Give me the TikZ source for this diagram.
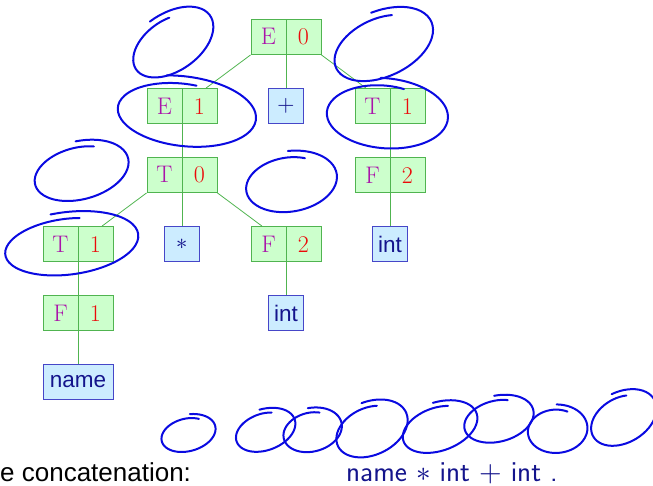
\documentclass[tikz,border=0pt]{standalone}
\usepackage{fontspec}
\usepackage{unicode-math}
\newfontfamily\helv{Liberation Sans}
\usetikzlibrary{positioning}
\definecolor{ntfill}{RGB}{204,255,204}
\definecolor{ntline}{RGB}{80,180,80}
\definecolor{ntsym}{RGB}{170,20,170}
\definecolor{ntidx}{RGB}{235,10,10}
\definecolor{tfill}{RGB}{204,236,255}
\definecolor{tline}{RGB}{70,70,200}
\definecolor{tdark}{RGB}{20,20,140}
\definecolor{handblue}{RGB}{10,10,225}
\tikzstyle{nterm} = [rectangle, draw=ntline, fill=ntfill, line width=0.9pt, minimum width=70pt, minimum height=35pt, inner sep=0pt, font=\fontsize{24}{28}\selectfont, path picture={\draw[ntline, line width=0.9pt] (path picture bounding box.north) -- (path picture bounding box.south);}]
\tikzstyle{term} = [rectangle, draw=tline, fill=tfill, line width=0.9pt, minimum width=35pt, minimum height=35pt, inner sep=0pt, text=tdark, font=\helv\fontsize{22.5}{26}\selectfont]
\tikzstyle{edge} = [ntline, line width=0.8pt]
\tikzstyle{hand} = [handblue, line width=2pt, line cap=round, line join=round]
\newcommand{\nt}[2]{\makebox[35pt]{\textcolor{ntsym}{#1}}\makebox[35pt]{\textcolor{ntidx}{#2}}}
\newcommand{\loopmark}[6]{\draw[hand, shift={(#1,-#2)}, rotate=#5] plot[smooth, domain=0:385, samples=60] ({#3*(1+\x/1400)*cos(\x+#6)}, {#4*(1+\x/1400)*sin(\x+#6)});}

\begin{document}
\begin{tikzpicture}[x=1pt, y=1pt, on grid, node distance=69pt and 104pt]
\useasboundingbox (0,0) rectangle (653,-486);

\node (e0) [nterm] at (286,-37) {\nt{E}{0}};
\node (e1) [nterm, below left=of e0] {\nt{E}{1}};
\node (plus) [term, below=of e0] {$+$};
\node (t1r) [nterm, below right=of e0] {\nt{T}{1}};
\node (t0) [nterm, below=of e1] {\nt{T}{0}};
\node (f2r) [nterm, below=of t1r] {\nt{F}{2}};
\node (t1l) [nterm, below left=of t0] {\nt{T}{1}};
\node (star) [term, below=of t0] {$*$};
\node (f2m) [nterm, below right=of t0] {\nt{F}{2}};
\node (intr) [term, below=of f2r] {int};
\node (f1) [nterm, below=of t1l] {\nt{F}{1}};
\node (intm) [term, below=of f2m] {int};
\node (name) [term, minimum width=70pt, below=of f1] {name};

\node (caption) [anchor=base west, inner sep=0pt, font=\helv\fontsize{26}{30}\selectfont] at (0,-481) {e concatenation:};
\node (leaves) [anchor=base west, inner sep=0pt, text=tdark, font=\sffamily\fontsize{29}{33}\selectfont] at (346,-481) {name $*$ int $+$ int .};

\draw [edge] (e0.south west) -- (e1);
\draw [edge] (e0.south) -- (plus.north);
\draw [edge] (e0.south east) -- (t1r);
\draw [edge] (e1.south) -- (t0.north);
\draw [edge] (t1r.south) -- (f2r.north);
\draw [edge] (t0.south west) -- (t1l);
\draw [edge] (t0.south) -- (star.north);
\draw [edge] (t0.south east) -- (f2m);
\draw [edge] (f2r.south) -- (intr.north);
\draw [edge] (t1l.south) -- (f1.north);
\draw [edge] (f2m.south) -- (intm.north);
\draw [edge] (f1.south) -- (name.north);

\loopmark{171}{44}{40}{24}{35}{70}
\loopmark{381}{46}{46}{27}{25}{60}
\loopmark{183}{113}{61}{29}{-6}{80}
\loopmark{384}{115}{53}{29}{-4}{70}
\loopmark{79}{172}{42}{24}{15}{60}
\loopmark{289}{183}{40}{25}{10}{60}
\loopmark{68}{245}{59}{26}{8}{75}
\loopmark{187}{434}{24}{15}{15}{50}
\loopmark{264}{431}{27}{17}{20}{60}
\loopmark{311}{431}{26}{18}{15}{60}
\loopmark{370}{430}{33}{22}{25}{60}
\loopmark{438}{428}{34}{20}{20}{60}
\loopmark{497}{420}{31}{19}{15}{60}
\loopmark{556}{430}{26}{20}{5}{60}
\loopmark{622}{419}{31}{21}{30}{60}
\end{tikzpicture}
\end{document}
